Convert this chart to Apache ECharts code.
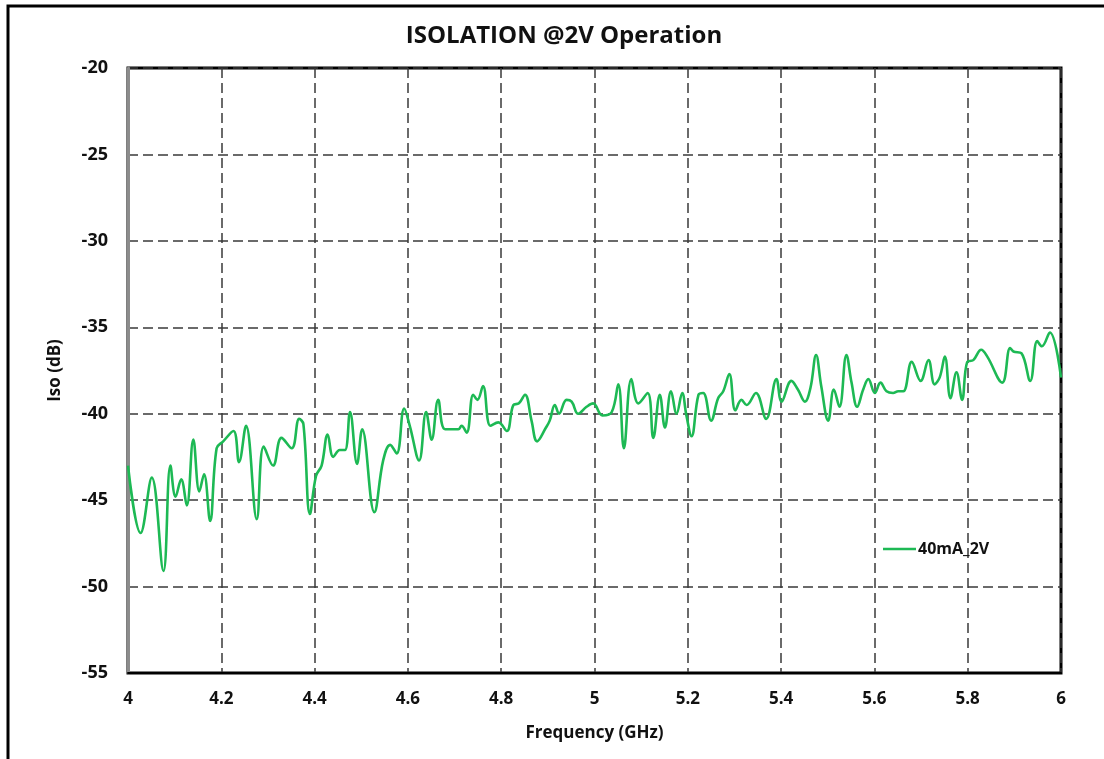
<!DOCTYPE html>
<html>
<head>
<meta charset="utf-8">
<script src="https://cdn.jsdelivr.net/npm/echarts@6/dist/echarts.min.js"></script>
<style>
  html, body { margin: 0; padding: 0; background: #fff; }
  #container { width: 1104px; height: 759px; }
</style>
</head>
<body>
<div id="container"></div>
<script>
// frequency points (GHz)
var freq = [
  4.000, 4.027, 4.051, 4.076, 4.091, 4.102, 4.114, 4.126, 4.140, 4.153,
  4.163, 4.176, 4.190, 4.204, 4.226, 4.238, 4.253, 4.276, 4.291, 4.311,
  4.329, 4.351, 4.367, 4.376, 4.390, 4.403, 4.415, 4.428, 4.440, 4.454,
  4.465, 4.476, 4.491, 4.502, 4.528, 4.547, 4.562, 4.576, 4.592, 4.604,
  4.624, 4.639, 4.651, 4.665, 4.680, 4.708, 4.715, 4.726, 4.740, 4.749,
  4.761, 4.777, 4.794, 4.812, 4.826, 4.838, 4.851, 4.865, 4.877, 4.896,
  4.904, 4.915, 4.924, 4.940, 4.951, 4.965, 4.983, 4.997, 5.017, 5.037,
  5.051, 5.063, 5.079, 5.094, 5.114, 5.126, 5.140, 5.151, 5.164, 5.176,
  5.188, 5.197, 5.208, 5.223, 5.233, 5.250, 5.265, 5.276, 5.289, 5.302,
  5.315, 5.326, 5.346, 5.368, 5.390, 5.401, 5.422, 5.436, 5.451, 5.463,
  5.475, 5.486, 5.501, 5.513, 5.525, 5.540, 5.551, 5.563, 5.576, 5.587,
  5.601, 5.613, 5.626, 5.640, 5.651, 5.662, 5.680, 5.699, 5.716, 5.729,
  5.740, 5.751, 5.763, 5.776, 5.788, 5.799, 5.812, 5.829, 5.842, 5.874,
  5.891, 5.898, 5.915, 5.934, 5.949, 5.959, 5.976, 6.000
];
// isolation (dB)
var iso = [
  -43.0, -46.9, -43.7, -49.1, -43.0, -44.8, -43.8, -45.3, -41.5, -44.5,
  -43.5, -46.2, -42.0, -41.6, -41.0, -42.8, -40.7, -46.1, -41.9, -43.0,
  -41.4, -42.0, -40.3, -40.6, -45.8, -43.6, -43.0, -41.2, -42.5, -42.1,
  -42.1, -39.9, -42.9, -40.9, -45.7, -42.7, -41.8, -42.3, -39.7, -40.7,
  -42.7, -39.9, -41.5, -39.2, -40.9, -40.9, -40.7, -41.1, -38.9, -39.2,
  -38.4, -40.7, -40.5, -41.0, -39.5, -39.4, -38.9, -40.4, -41.6, -40.8,
  -40.4, -39.5, -40.0, -39.2, -39.3, -40.0, -39.6, -39.4, -40.1, -39.9,
  -38.3, -42.0, -38.0, -39.4, -38.8, -41.4, -38.9, -40.8, -38.7, -40.0,
  -38.8, -40.1, -41.3, -38.9, -38.8, -40.4, -39.1, -38.7, -37.7, -39.8,
  -39.2, -39.5, -38.8, -40.3, -38.0, -39.3, -38.1, -38.6, -39.3, -38.5,
  -36.6, -38.4, -40.4, -38.6, -39.6, -36.6, -38.2, -39.6, -38.6, -38.0,
  -38.8, -38.2, -38.7, -38.8, -38.7, -38.7, -37.0, -38.1, -36.9, -38.3,
  -37.9, -36.7, -39.1, -37.6, -39.2, -37.0, -36.9, -36.3, -36.7, -38.2,
  -36.2, -36.4, -36.5, -38.1, -35.8, -36.1, -35.3, -37.9
];
var seriesName = '40mA_2V';

var points = [];
for (var i = 0; i < freq.length; i++) {
    points.push([freq[i], iso[i]]);
}

var font = '"Open Sans", "Liberation Sans", sans-serif';
var dom = document.getElementById('container');
var myChart = echarts.init(dom, null, { renderer: 'canvas' });

var option = {
    backgroundColor: '#fff',
    animation: false,
    title: {
        text: 'ISOLATION @2V Operation',
        left: 559,
        top: 19,
        textAlign: 'center',
        textStyle: { fontFamily: font, fontWeight: 'bold', fontSize: 24, color: '#111' }
    },
    legend: {
        left: 878,
        top: 536,
        icon: 'rect',
        itemWidth: 33,
        itemHeight: 2.5,
        itemGap: 4,
        textStyle: { fontFamily: font, fontWeight: 'bold', fontSize: 16, color: '#111', padding: [0, 0, 0, -3] },
        data: [seriesName]
    },
    graphic: [{
        type: 'rect',
        shape: { x: 8, y: 6, width: 1300, height: 900 },
        style: { fill: 'none', stroke: '#000', lineWidth: 3 },
        silent: true
    }],
    grid: {
        left: 128,
        right: 1104 - 1061,
        top: 68,
        bottom: 759 - 673,
        show: true,
        borderColor: '#000',
        borderWidth: 3
    },
    xAxis: {
        type: 'value',
        min: 4,
        max: 6,
        interval: 0.2,
        name: 'Frequency (GHz)',
        nameLocation: 'middle',
        nameGap: 52,
        nameTextStyle: { fontFamily: font, fontWeight: 'bold', fontSize: 17, color: '#111' },
        axisLine: { lineStyle: { color: '#000', width: 2 } },
        axisTick: { show: false },
        axisLabel: { margin: 18, fontFamily: font, fontWeight: 'bold', fontSize: 17, color: '#111' },
        splitLine: { lineStyle: { color: '#3a3a3a', type: [10, 5], width: 1.5 } }
    },
    yAxis: {
        type: 'value',
        min: -55,
        max: -20,
        interval: 5,
        name: 'Iso (dB)',
        nameLocation: 'middle',
        nameRotate: 90,
        nameGap: 64,
        nameTextStyle: { fontFamily: font, fontWeight: 'bold', fontSize: 17, color: '#111' },
        axisLine: { show: true, lineStyle: { color: '#8c8c8c', width: 3 } },
        axisTick: { show: false },
        axisLabel: { margin: 20, fontFamily: font, fontWeight: 'bold', fontSize: 18, color: '#111' },
        splitLine: { lineStyle: { color: '#3a3a3a', type: [10, 5], width: 1.5 } }
    },
    series: [{
        name: seriesName,
        type: 'line',
        data: points,
        smooth: 0.4,
        symbol: 'none',
        lineStyle: { color: '#1db954', width: 2.6 },
        itemStyle: { color: '#1db954' },
        z: 5
    }]
};

myChart.setOption(option);
</script>
</body>
</html>
